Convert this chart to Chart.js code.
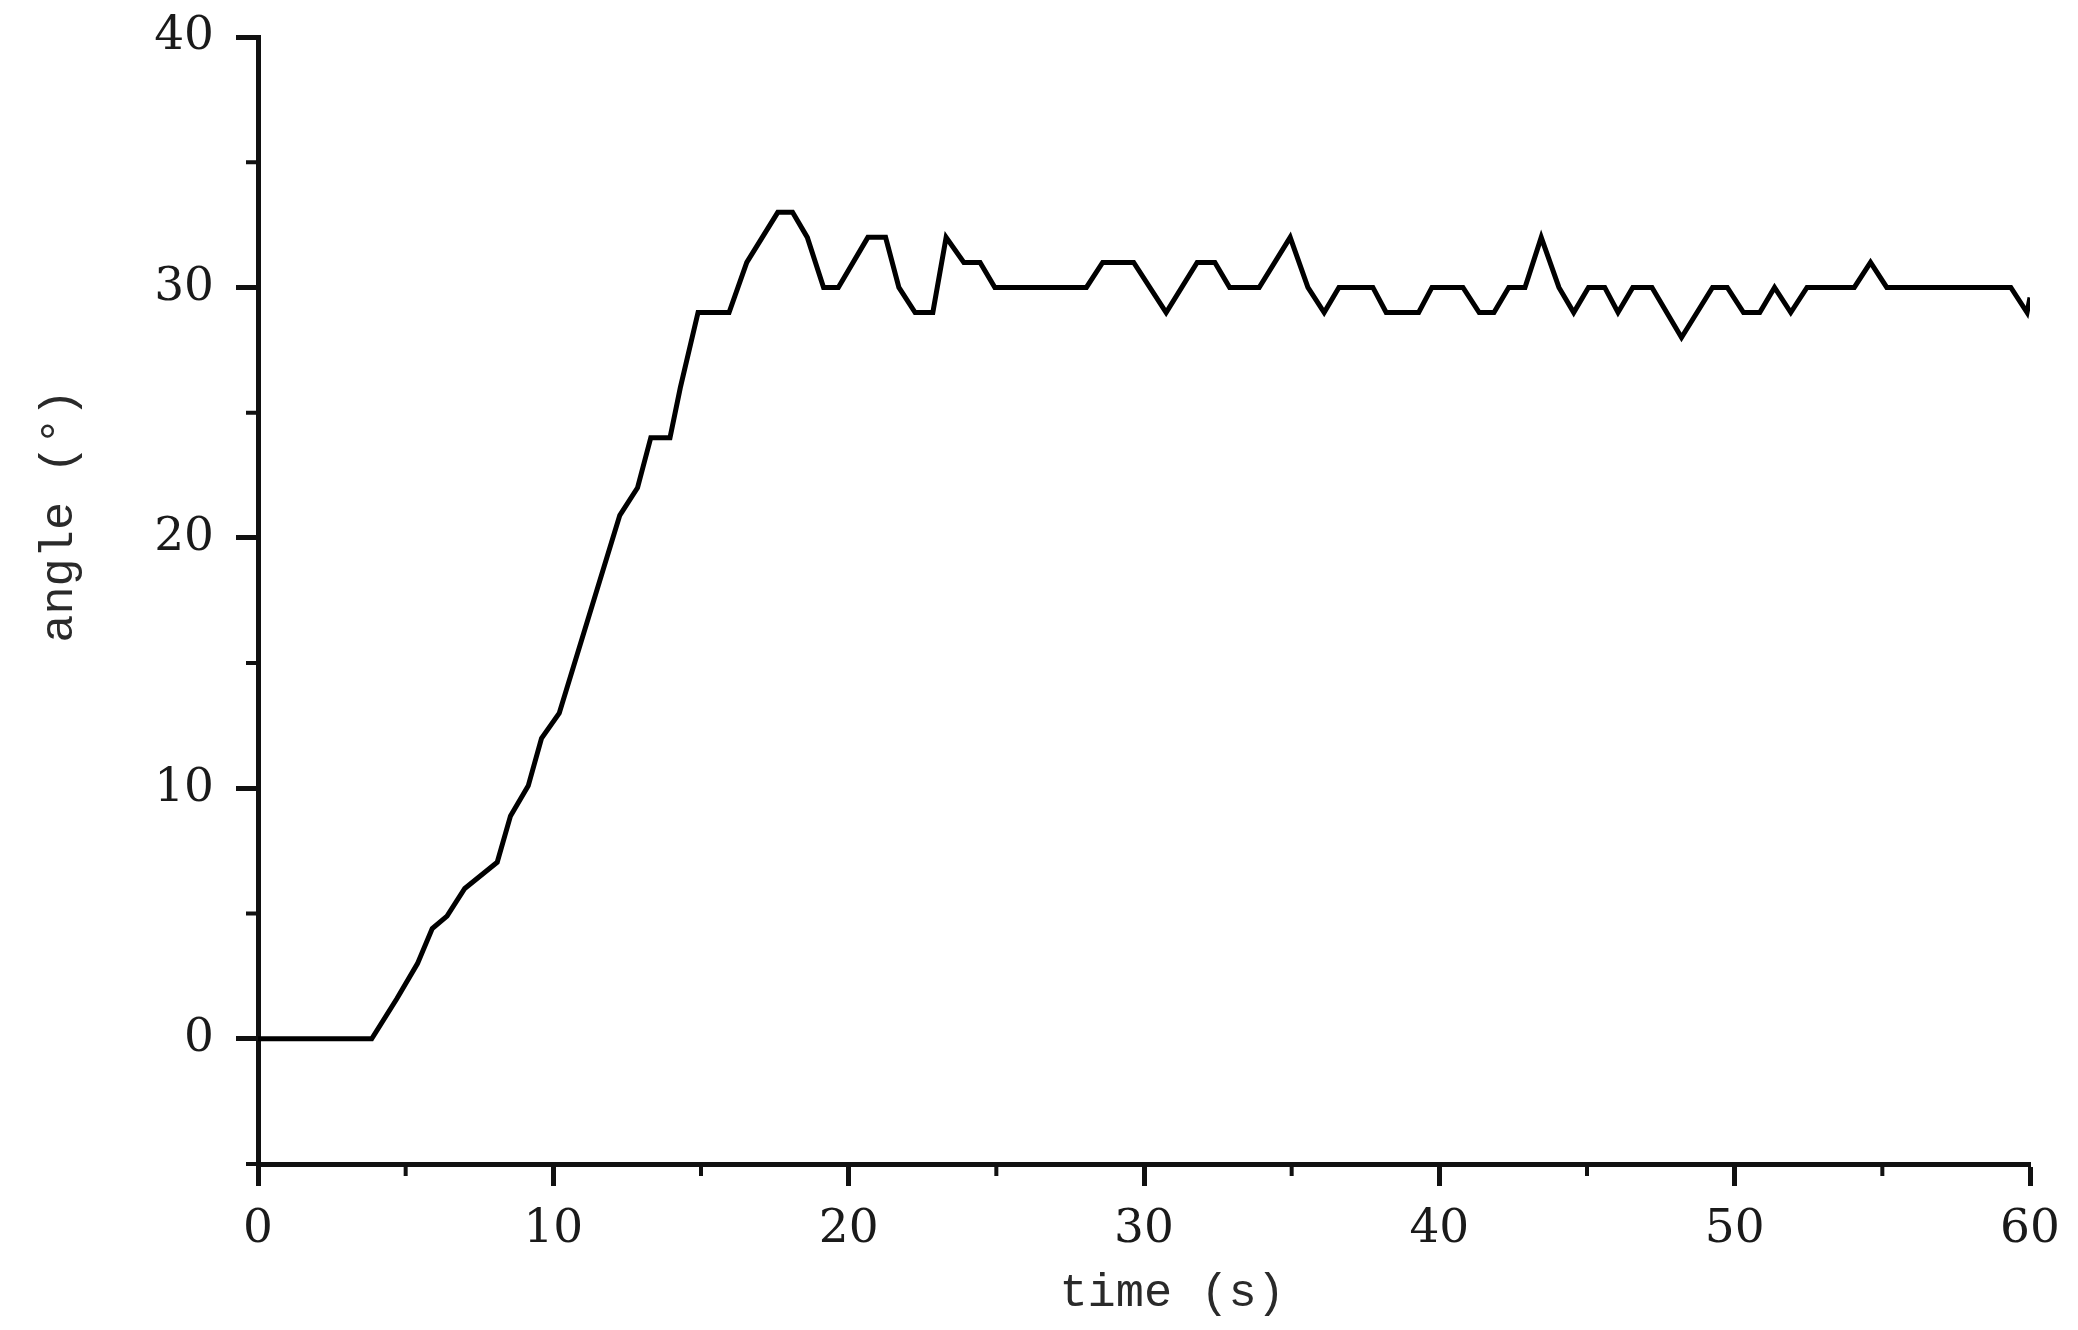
<!DOCTYPE html>
<html>
<head>
<meta charset="utf-8">
<title>angle vs time</title>
<script src="https://cdn.jsdelivr.net/npm/chart.js@4.4.1/dist/chart.umd.min.js"></script>
<style>
  html, body { margin: 0; padding: 0; background: #fff; }
  #wrap { width: 2078px; height: 1330px; }
</style>
</head>
<body>
<div id="wrap"><canvas id="angleChart" width="2078" height="1330"></canvas></div>
<script>
const timeS = [
  0, 3.85, 4.7, 5.4, 5.9, 6.4, 7.0, 8.1, 8.55, 9.15, 9.6, 10.2, 12.25, 12.85, 13.3, 13.95,
  14.3, 14.9, 15.95, 16.55, 17.6, 18.1, 18.6, 19.15, 19.65, 20.65, 21.25, 21.7, 22.25, 22.85,
  23.3, 23.9, 24.45, 24.95, 28.05, 28.6, 29.65, 30.75, 31.8, 32.4, 32.9, 33.9, 34.95, 35.55,
  36.1, 36.6, 37.75, 38.2, 39.3, 39.75, 40.8, 41.35, 41.85, 42.35, 42.9, 43.45, 44.05, 44.55,
  45.05, 45.6, 46.05, 46.55, 47.2, 48.2, 49.25, 49.75, 50.3, 50.85, 51.35, 51.9, 52.45, 54.05,
  54.6, 55.15, 59.35, 59.9, 60
];
const angleDeg = [
  0, 0, 1.6, 3.0, 4.4, 4.9, 6.0, 7.05, 8.9, 10.1, 12.0, 13.0, 20.9, 22.0, 24, 24,
  26, 29, 29, 31, 33, 33, 32, 30, 30, 32, 32, 30, 29, 29,
  32, 31, 31, 30, 30, 31, 31, 29, 31, 31, 30, 30, 32, 30,
  29, 30, 30, 29, 29, 30, 30, 29, 29, 30, 30, 32, 30, 29,
  30, 30, 29, 30, 30, 28, 30, 30, 29, 29, 30, 29, 30, 30,
  31, 30, 30, 29, 29.6
];
const xTickLabels = [0, 10, 20, 30, 40, 50, 60];
const yTickLabels = [0, 10, 20, 30, 40];

const ink = '#111';
const tickFont = { family: '"DejaVu Serif", "Liberation Serif", serif', size: 47 };
const titleFont = { family: '"Liberation Mono", "DejaVu Sans Mono", monospace', size: 47 };

// short minor ticks at the odd multiples of 5 (major ones come from the grid)
const minorTicks = {
  id: 'minorTicks',
  afterDraw(chart) {
    const { ctx } = chart;
    const { x, y } = chart.scales;
    ctx.save();
    ctx.strokeStyle = ink;
    ctx.lineWidth = 4;
    ctx.beginPath();
    x.ticks.forEach(t => {
      if (t.value % 10 === 0) return;
      const px = x.getPixelForValue(t.value);
      ctx.moveTo(px, x.top);
      ctx.lineTo(px, x.top + 12);
    });
    y.ticks.forEach(t => {
      if (t.value % 10 === 0) return;
      const py = y.getPixelForValue(t.value);
      ctx.moveTo(y.right, py);
      ctx.lineTo(y.right - 12, py);
    });
    ctx.stroke();
    ctx.restore();
  },
};

const majorColor = c => (c.tick && c.tick.value % 10 === 0 ? ink : 'rgba(0,0,0,0)');

new Chart(document.getElementById('angleChart'), {
  type: 'line',
  data: {
    datasets: [{
      data: timeS.map((t, i) => ({ x: t, y: angleDeg[i] })),
      borderColor: '#000',
      borderWidth: 5,
      pointRadius: 0,
      tension: 0,
      fill: false,
    }],
  },
  options: {
    responsive: false,
    animation: false,
    devicePixelRatio: 1,
    layout: { padding: { top: 37, right: 48, left: 0, bottom: 0 } },
    plugins: { legend: { display: false }, tooltip: { enabled: false } },
    scales: {
      x: {
        type: 'linear',
        min: 0,
        max: 60,
        afterFit: s => { s.height = 166; s.paddingLeft = 0; s.paddingRight = 0; },
        border: { color: ink, width: 5 },
        grid: { drawOnChartArea: false, tickLength: 22, tickWidth: 5, tickColor: majorColor },
        ticks: {
          stepSize: 5,
          padding: 16,
          maxRotation: 0,
          autoSkip: false,
          color: '#1a1a1a',
          font: tickFont,
          callback: v => (xTickLabels.includes(v) ? String(v) : ''),
        },
        title: {
          display: true,
          text: '  time (s)',
          color: '#2a2a2a',
          font: titleFont,
          padding: { top: 0, bottom: 8 },
        },
      },
      y: {
        type: 'linear',
        min: -5,
        max: 40,
        afterFit: s => { s.width = 258; s.paddingTop = 0; s.paddingBottom = 0; },
        border: { color: ink, width: 5 },
        grid: { drawOnChartArea: false, tickLength: 22, tickWidth: 5, tickColor: majorColor },
        ticks: {
          stepSize: 5,
          padding: 22,
          autoSkip: false,
          color: '#1a1a1a',
          font: tickFont,
          callback: v => (yTickLabels.includes(v) ? String(v) : ''),
        },
        title: {
          display: true,
          text: '      angle (°)',
          color: '#2a2a2a',
          font: titleFont,
          padding: { top: 31, bottom: 0 },
        },
      },
    },
  },
  plugins: [minorTicks],
});
</script>
</body>
</html>
